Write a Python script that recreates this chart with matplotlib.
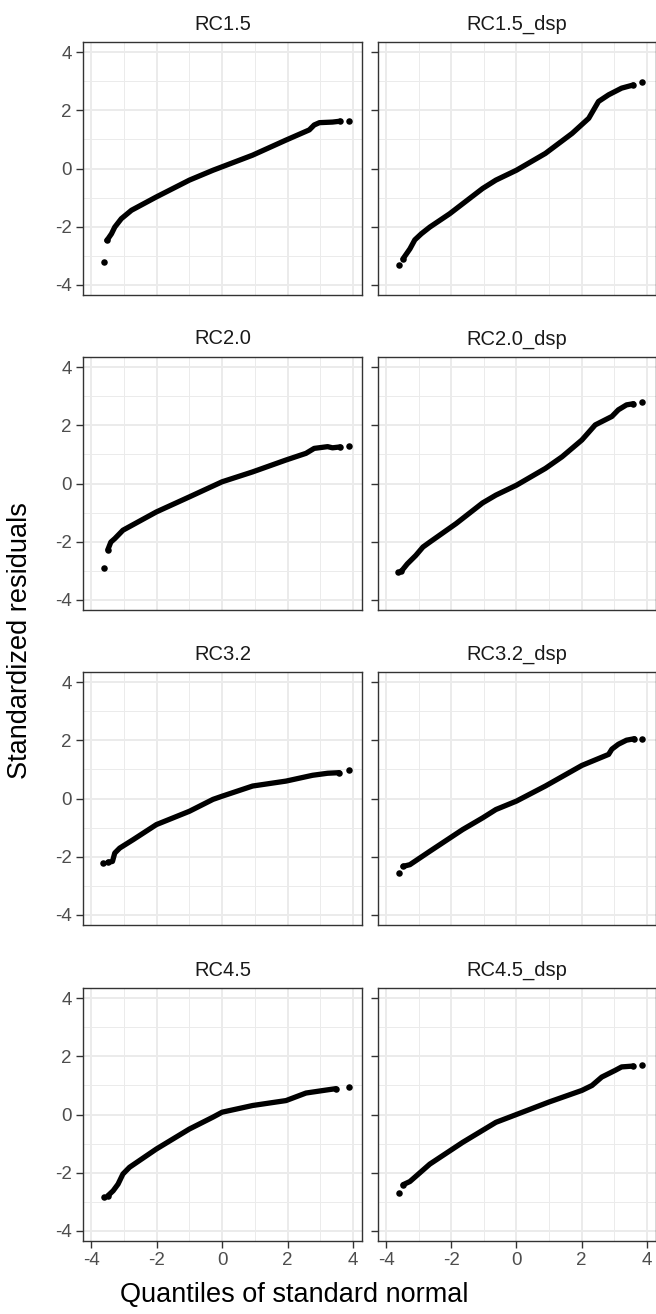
import matplotlib
matplotlib.use("Agg")
import matplotlib.pyplot as plt

plt.rcParams['font.family'] = ['Liberation Sans', 'DejaVu Sans']

# panel names, in reading order
panels = ["RC1.5", "RC1.5_dsp", "RC2.0", "RC2.0_dsp",
          "RC3.2", "RC3.2_dsp", "RC4.5", "RC4.5_dsp"]

# points (theoretical quantile, standardized residual)
rc15_x = [-3.62, -3.52, -3.38, -3.28, -3.08, -2.77, -2.01, -1.0, -0.28, 0.0, 0.93, 1.95, 2.66, 2.81, 2.97, 3.37, 3.6, 3.88]
rc15_y = [-3.23, -2.48, -2.25, -2.02, -1.73, -1.44, -0.98, -0.40, -0.06, 0.06, 0.46, 0.98, 1.33, 1.50, 1.58, 1.60, 1.63, 1.65]

rc15d_x = [-3.61, -3.48, -3.27, -3.12, -2.92, -2.66, -2.05, -1.04, -0.63, 0.0, 0.89, 1.71, 2.22, 2.37, 2.52, 2.83, 3.23, 3.59, 3.87]
rc15d_y = [-3.32, -3.11, -2.77, -2.46, -2.25, -2.02, -1.56, -0.69, -0.40, -0.06, 0.52, 1.21, 1.73, 2.02, 2.31, 2.54, 2.77, 2.88, 2.98]

rc20_x = [-3.62, -3.49, -3.40, -3.28, -3.03, -2.01, -1.0, 0.0, 0.93, 1.95, 2.56, 2.81, 3.22, 3.37, 3.6, 3.88]
rc20_y = [-2.91, -2.28, -2.02, -1.90, -1.61, -0.98, -0.46, 0.06, 0.40, 0.81, 1.04, 1.21, 1.27, 1.23, 1.26, 1.29]

rc20d_x = [-3.63, -3.53, -3.35, -3.09, -2.87, -2.66, -1.85, -1.04, -0.63, 0.0, 0.89, 1.40, 2.01, 2.42, 2.93, 3.13, 3.38, 3.59, 3.87]
rc20d_y = [-3.06, -3.02, -2.77, -2.48, -2.19, -2.02, -1.38, -0.67, -0.40, -0.06, 0.52, 0.92, 1.50, 2.02, 2.31, 2.54, 2.71, 2.75, 2.80]

rc32_x = [-3.63, -3.49, -3.35, -3.28, -3.13, -2.72, -2.01, -1.0, -0.28, 0.0, 0.93, 1.95, 2.76, 3.22, 3.57, 3.88]
rc32_y = [-2.23, -2.20, -2.17, -1.88, -1.71, -1.42, -0.90, -0.44, -0.03, 0.08, 0.43, 0.60, 0.80, 0.87, 0.89, 0.97]

rc32d_x = [-3.61, -3.48, -3.27, -2.66, -1.65, -1.04, -0.63, 0.0, 0.89, 2.01, 2.83, 2.93, 3.13, 3.38, 3.62, 3.87]
rc32d_y = [-2.57, -2.34, -2.28, -1.82, -1.07, -0.67, -0.38, -0.09, 0.43, 1.14, 1.52, 1.70, 1.87, 2.01, 2.06, 2.06]

rc45_x = [-3.62, -3.49, -3.33, -3.18, -3.03, -2.83, -2.01, -1.0, -0.28, 0.0, 0.93, 1.95, 2.56, 3.22, 3.47, 3.88]
rc45_y = [-2.84, -2.80, -2.63, -2.40, -2.05, -1.82, -1.19, -0.50, -0.09, 0.08, 0.31, 0.48, 0.74, 0.85, 0.89, 0.95]

rc45d_x = [-3.61, -3.48, -3.27, -2.66, -1.65, -0.63, 0.0, 1.0, 2.01, 2.32, 2.62, 3.03, 3.23, 3.59, 3.87]
rc45d_y = [-2.69, -2.42, -2.31, -1.71, -0.96, -0.27, 0.0, 0.43, 0.83, 1.00, 1.29, 1.52, 1.64, 1.67, 1.72]

xs = [rc15_x, rc15d_x, rc20_x, rc20d_x, rc32_x, rc32d_x, rc45_x, rc45d_x]
ys = [rc15_y, rc15d_y, rc20_y, rc20d_y, rc32_y, rc32d_y, rc45_y, rc45d_y]

W, H = 656, 1314
fig = plt.figure(figsize=(W / 100, H / 100), dpi=100)

lefts = [83, 378]
tops = [42, 357, 672, 988]
pw, ph = 279, 253

for i, name in enumerate(panels):
    r, c = divmod(i, 2)
    left = lefts[c]
    width = pw if c == 0 else 655.5 - left
    ax = fig.add_axes([left / W, 1 - (tops[r] + ph) / H, width / W, ph / H])
    ax.set_xlim(-4.25, 4.27)
    ax.set_ylim(-4.36, 4.36)

    # theme_bw style grid
    for v in [-3, -1, 1, 3]:
        ax.axvline(v, color='#EBEBEB', lw=0.7, zorder=0)
        ax.axhline(v, color='#EBEBEB', lw=0.7, zorder=0)
    for v in [-4, -2, 0, 2, 4]:
        ax.axvline(v, color='#EBEBEB', lw=1.4, zorder=0)
        ax.axhline(v, color='#EBEBEB', lw=1.4, zorder=0)

    # dense body drawn as a thick band, tail points as dots
    ax.plot(xs[i][1:-1], ys[i][1:-1], color='black', lw=3.8,
            solid_capstyle='round', solid_joinstyle='round', zorder=2)
    ax.scatter([xs[i][0], xs[i][1], xs[i][-2], xs[i][-1]],
               [ys[i][0], ys[i][1], ys[i][-2], ys[i][-1]], s=22,
               color='black', zorder=3, linewidths=0)

    ax.set_title(name, fontsize=14.5, color='#1A1A1A', pad=9)

    ax.set_xticks([-4, -2, 0, 2, 4])
    ax.set_yticks([-4, -2, 0, 2, 4])
    ax.set_xticklabels(['-4', '-2', '0', '2', '4'])
    ax.set_yticklabels(['-4', '-2', '0', '2', '4'])
    ax.tick_params(colors='#333333', labelcolor='#4D4D4D', labelsize=13.5,
                   length=5, width=1.0, pad=3)
    if c == 1:
        ax.tick_params(axis='y', left=True, labelleft=False)
    if r < 3:
        ax.tick_params(axis='x', bottom=False, labelbottom=False)
    for s in ax.spines.values():
        s.set_color('#333333')
        s.set_linewidth(1.0)

fig.text(20 / W, 1 - 641 / H, 'Standardized residuals', rotation=90,
         ha='center', va='center', fontsize=19.5, color='black')
fig.text(294 / W, 1 - 1295 / H, 'Quantiles of standard normal',
         ha='center', va='center', fontsize=19.5, color='black')

fig.savefig('out.png', dpi=100)
